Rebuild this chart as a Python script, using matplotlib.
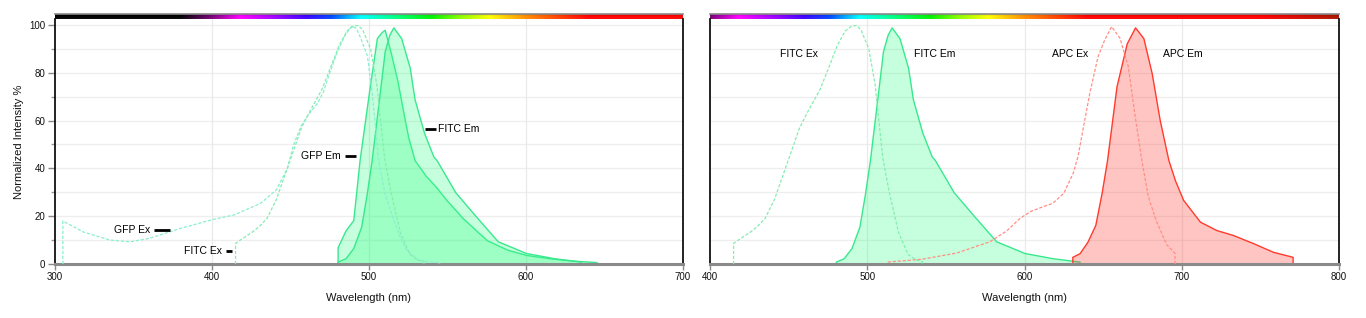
import numpy as np
import matplotlib
matplotlib.use("Agg")
import matplotlib.pyplot as plt

plt.rcParams['font.family'] = ['Liberation Sans', 'DejaVu Sans']

# ---------------- data ----------------
gfp_ex_wl = [305, 318, 335, 348, 360, 380, 401, 414, 431, 441, 448, 452, 457, 462, 467, 471, 475,
             480, 485, 489, 492, 495, 499, 502, 506, 510, 515, 520, 524, 531, 538, 545]
gfp_ex_val = [18, 13.4, 10, 9.3, 10.7, 14.9, 18.7, 20.5, 25.4, 31, 40, 50, 58, 63, 67, 72, 80,
              89, 96, 99.5, 98.5, 94, 87, 72, 44, 30, 19.7, 11, 5.9, 1.7, 1, 0.5]

fitc_ex_wl = [415, 418, 426, 430, 435, 441, 449, 457, 462, 470, 476, 481, 486, 490, 493,
              496, 501, 505, 508, 510, 514, 520, 526, 531, 535]
fitc_ex_val = [8.6, 10, 13.5, 15.6, 19, 27, 42, 57, 63.5, 73, 83, 91.5, 97.5, 99.5, 99.8,
               98, 90, 75, 56, 44, 30, 13, 4, 1.7, 1]

gfp_em_wl = [480, 485, 490, 494, 500, 505, 508, 510, 514, 518, 522, 525, 529, 536, 543, 549,
             560, 575, 588, 600, 615, 630, 645]
gfp_em_val = [7, 14, 18.4, 43.5, 72, 94.5, 97, 98, 88, 77, 63, 53, 43.5, 37, 32, 27,
              19, 10, 6, 3.8, 2.4, 1.4, 0.8]

fitc_em_wl = [480, 485, 490, 495, 498.6, 501.7, 506, 510, 513, 515.5, 520.5, 526, 529, 535,
              541, 543, 555, 568, 582, 600, 618, 635]
fitc_em_val = [1, 2.4, 6.7, 15.6, 29.6, 43.5, 67, 89, 96, 99, 94.5, 82, 69, 55,
               45, 43.5, 30, 20, 9.5, 4.6, 2.4, 1]

apc_ex_wl = [513, 535, 557, 578, 589, 597, 604, 612, 618, 625, 631, 634, 641.6, 646.8, 651,
             655.4, 660.7, 666, 670.4, 674.6, 678.7, 684, 690.5, 695.7]
apc_ex_val = [0.8, 2, 4.6, 9.3, 14, 19, 22, 24, 25.4, 29.6, 38, 44.9, 71.7, 86.8, 93.7,
              99.3, 94.5, 82.6, 61.6, 43.5, 28.2, 17.7, 8, 4.5]

apc_em_wl = [630.4, 635, 640, 645, 649, 652.5, 658.5, 665, 670.3, 675.6, 680.9, 686, 691.5,
             695.7, 700.9, 711.6, 722, 732.7, 745.5, 758, 770.5]
apc_em_val = [3, 4.5, 9.3, 16.3, 29.6, 43.5, 74.3, 92.3, 99, 94.5, 79.8, 60.2, 43.5,
              35, 26.8, 17.7, 14.2, 12.1, 8.7, 5.1, 3]

x_ticks_left = [300, 400, 500, 600, 700]
x_ticks_right = [400, 500, 600, 700, 800]
y_ticks = [0, 20, 40, 60, 80, 100]

# ---------------- style ----------------
EX_GFP = '#8aeed2'
EX_FITC = '#84eeb0'
EM_EDGE = '#38e88e'
EM_FILL = (0.20, 1.0, 0.52, 0.28)
APC_EX = '#ff8f86'
APC_EDGE = '#ff3b2e'
APC_FILL = (1.0, 0.25, 0.22, 0.30)
DASH = (0, (2.6, 1.4))

spec_stops = [
    (300, (0, 0, 0)), (380, (0, 0, 0)), (400, (120, 0, 120)), (418, (255, 0, 255)),
    (440, (160, 0, 255)), (460, (60, 0, 255)), (476, (0, 70, 255)), (495, (0, 255, 255)),
    (520, (0, 255, 110)), (540, (0, 240, 0)), (560, (150, 255, 0)), (577, (255, 255, 0)),
    (600, (255, 140, 0)), (622, (255, 60, 0)), (640, (255, 0, 0)), (750, (255, 0, 0)),
    (800, (170, 20, 0))]

W, H = 1366, 318
fig = plt.figure(figsize=(W / 100, H / 100), dpi=100)

def fx(px):
    return px / W

def fy(py):
    return 1 - py / H

top_px, bot_px = 19, 264
ymax = 102.5


def spectrum_bar(x0px, x1px, xlim):
    cax = fig.add_axes([fx(x0px), fy(top_px), fx(x1px - x0px), (top_px - 13.5) / H])
    wl = np.linspace(xlim[0], xlim[1], 1000)
    sw = [s[0] for s in spec_stops]
    rgb = np.stack([np.interp(wl, sw, [s[1][i] for s in spec_stops]) for i in range(3)], axis=-1) / 255
    img = np.stack([rgb * 0.85, rgb, rgb * 0.95 + 0.05], axis=0)
    cax.imshow(img, aspect='auto', extent=[xlim[0], xlim[1], 0, 1], interpolation='bilinear')
    cax.set_xlim(xlim)
    cax.set_xticks([])
    cax.set_yticks([])
    for s in ['left', 'right', 'bottom']:
        cax.spines[s].set_visible(False)
    cax.spines['top'].set_color('#8a8a8a')
    cax.spines['top'].set_linewidth(1.2)


def make_axes(x0px, x1px, xlim, xticks, show_y):
    ax = fig.add_axes([fx(x0px), fy(bot_px), fx(x1px - x0px), (bot_px - top_px) / H])
    ax.set_xlim(xlim)
    ax.set_ylim(0, ymax)
    ax.set_xticks(xticks)
    ax.set_yticks(y_ticks)
    ax.set_yticks(np.arange(10, 100, 20), minor=True)
    for yv in range(10, 101, 10):
        ax.axhline(yv, color='#eeeeee', lw=0.9, zorder=0)
    for xv in xticks[1:-1]:
        ax.axvline(xv, color='#eaeaea', lw=0.9, zorder=0)
    ax.spines['top'].set_visible(False)
    ax.spines['left'].set_color('#111111')
    ax.spines['left'].set_linewidth(1.3)
    ax.spines['right'].set_color('#111111')
    ax.spines['right'].set_linewidth(1.3)
    ax.spines['bottom'].set_color('#8a8a8a')
    ax.spines['bottom'].set_linewidth(2.2)
    ax.tick_params(axis='x', direction='out', length=4, width=1, color='#8a8a8a',
                   labelsize=7, pad=2, labelcolor='#111111')
    if show_y:
        ax.tick_params(axis='y', which='major', direction='out', length=5, width=1,
                       color='#8a8a8a', labelsize=7, pad=2, labelcolor='#111111')
        ax.tick_params(axis='y', which='minor', direction='out', length=3, width=1,
                       color='#9a9a9a')
        ax.set_ylabel('Normalized Intensity %', fontsize=8, labelpad=4, color='#111111')
    else:
        ax.tick_params(axis='y', which='both', left=False, labelleft=False)
    ax.set_xlabel('Wavelength (nm)', fontsize=8, labelpad=8, color='#111111')
    return ax


def ex_line(ax, wl, val, color, start_drop=True, end_drop=True):
    x = list(wl)
    y = list(val)
    if start_drop:
        x = [x[0]] + x
        y = [0] + y
    if end_drop:
        x = x + [x[-1]]
        y = y + [0]
    ax.plot(x, y, color=color, lw=0.9, ls=DASH, zorder=3)


def em_fill(ax, wl, val, face, edge):
    ax.fill_between(wl, 0, val, facecolor=face, edgecolor=edge, lw=1.0, zorder=2)


# ---------------- left panel ----------------
L0, L1 = 55, 683
spectrum_bar(L0, L1, (300, 700))
axL = make_axes(L0, L1, (300, 700), x_ticks_left, True)
em_fill(axL, gfp_em_wl, gfp_em_val, EM_FILL, EM_EDGE)
em_fill(axL, fitc_em_wl, fitc_em_val, EM_FILL, EM_EDGE)
ex_line(axL, gfp_ex_wl, gfp_ex_val, EX_GFP)
ex_line(axL, fitc_ex_wl, fitc_ex_val, EX_FITC)

# labels with leader dashes: (text, dash start, dash end, y, text side)
left_labels = [('GFP Ex', 363, 373, 14.2, 'left'),
               ('FITC Ex', 409, 413, 5.4, 'left'),
               ('GFP Em', 484.7, 491.7, 45.3, 'left'),
               ('FITC Em', 535.7, 542.7, 56.5, 'right')]
for txt, d0, d1, yv, side in left_labels:
    axL.plot([d0, d1], [yv, yv], color='black', lw=2, solid_capstyle='butt', zorder=5)
    if side == 'left':
        axL.text(d0 - 2.5, yv, txt, ha='right', va='center', fontsize=7.5, zorder=5)
    else:
        axL.text(d1 + 1.5, yv, txt, ha='left', va='center', fontsize=7.5, zorder=5)

# ---------------- right panel ----------------
R0, R1 = 710, 1339
spectrum_bar(R0, R1, (400, 800))
axR = make_axes(R0, R1, (400, 800), x_ticks_right, False)
em_fill(axR, fitc_em_wl, fitc_em_val, EM_FILL, EM_EDGE)
em_fill(axR, apc_em_wl, apc_em_val, APC_FILL, APC_EDGE)
ex_line(axR, fitc_ex_wl, fitc_ex_val, EX_FITC)
ex_line(axR, apc_ex_wl, apc_ex_val, APC_EX, start_drop=False)

right_labels = [('FITC Ex', 444.5, 88), ('FITC Em', 529.7, 88),
                ('APC Ex', 617.5, 88), ('APC Em', 688, 88)]
for txt, xv, yv in right_labels:
    axR.text(xv, yv, txt, ha='left', va='center', fontsize=7.5, zorder=5)

fig.savefig('out.png', dpi=100)
